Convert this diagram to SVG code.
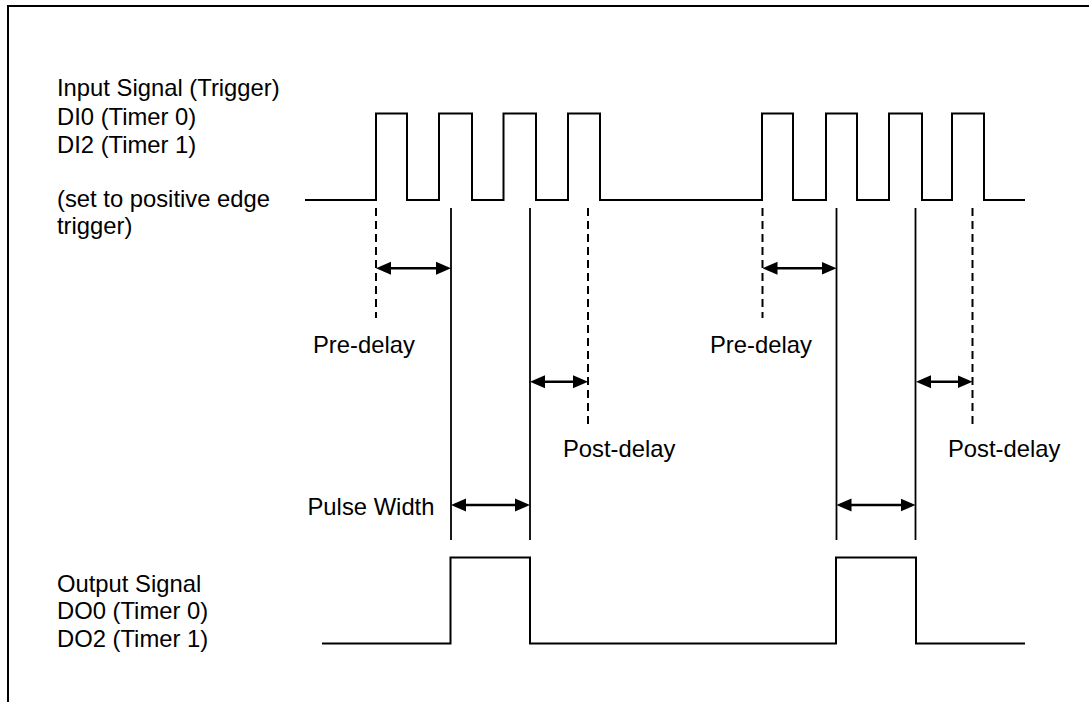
<svg xmlns="http://www.w3.org/2000/svg" width="1089" height="702" viewBox="0 0 1089 702">
<defs>
<style>
text{font-family:"Liberation Sans",Arial,sans-serif;font-size:23.8px;fill:#000}
.wave{fill:none;stroke:#000;stroke-width:2;stroke-linejoin:miter}
.frame{fill:none;stroke:#000;stroke-width:2}
.dash{stroke:#000;stroke-width:2;stroke-dasharray:8,5;fill:none}
.guide{stroke:#000;stroke-width:1.8;fill:none}
.dim{stroke:#000;stroke-width:2.6;fill:none;marker-start:url(#ah);marker-end:url(#ah)}
</style>
<marker id="ah" viewBox="0 0 15 14" refX="11" refY="7" markerWidth="15" markerHeight="14" markerUnits="userSpaceOnUse" orient="auto-start-reverse">
<path d="M0,0.5 L15,7 L0,13.5 Z" fill="#000"/>
</marker>
</defs>
<rect width="1089" height="702" fill="#fff"/>
<path id="frame" class="frame" d="M8,702 V6 H1089"/>

<g id="input-label">
<text x="57" y="96">Input Signal (Trigger)</text>
<text x="57" y="124.5">DI0 (Timer 0)</text>
<text x="57" y="152.5">DI2 (Timer 1)</text>
<text x="57" y="207">(set to positive edge</text>
<text x="57" y="234">trigger)</text>
</g>

<g id="input-signal">
<path class="wave" d="M305,200 H376 V113.5 H407 V200 H439 V113.5 H472 V200 H503.5 V113.5 H536 V200 H568 V113.5 H600 V200 H762 V113.5 H793 V200 H826 V113.5 H857 V200 H889 V113.5 H922 V200 H952 V113.5 H984 V200 H1025"/>
</g>

<g id="output-label">
<text x="57" y="591.5">Output Signal</text>
<text x="57" y="619.3">DO0 (Timer 0)</text>
<text x="57" y="647">DO2 (Timer 1)</text>
</g>

<g id="output-signal">
<path class="wave" d="M322,643.5 H450.5 V557.5 H530 V643.5 H836 V557.5 H916 V643.5 H1025"/>
</g>

<g id="connectors">
<g id="markers-dashed">
<line class="dash" x1="376" y1="208" x2="376" y2="318"/>
<line class="dash" x1="588" y1="208" x2="588" y2="425"/>
<line class="dash" x1="762.5" y1="208" x2="762.5" y2="318"/>
<line class="dash" x1="972.5" y1="208" x2="972.5" y2="425"/>
</g>
<g id="markers-solid">
<line class="guide" x1="451" y1="208" x2="451" y2="540"/>
<line class="guide" x1="530" y1="208" x2="530" y2="540"/>
<line class="guide" x1="836.5" y1="208" x2="836.5" y2="540"/>
<line class="guide" x1="915.5" y1="208" x2="915.5" y2="540"/>
</g>
<g id="dimension-arrows">
<line class="dim" x1="380" y1="268.3" x2="447" y2="268.3"/>
<line class="dim" x1="534" y1="381.7" x2="584" y2="381.7"/>
<line class="dim" x1="455" y1="505" x2="526" y2="505"/>
<line class="dim" x1="766.5" y1="268.3" x2="832.5" y2="268.3"/>
<line class="dim" x1="920" y1="381.7" x2="968.5" y2="381.7"/>
<line class="dim" x1="840.5" y1="505" x2="911.5" y2="505"/>
</g>
</g>

<g id="dimension-labels">
<text x="313" y="353">Pre-delay</text>
<text x="563" y="457">Post-delay</text>
<text x="307.5" y="515">Pulse Width</text>
<text x="710" y="353">Pre-delay</text>
<text x="948" y="457">Post-delay</text>
</g>
</svg>
